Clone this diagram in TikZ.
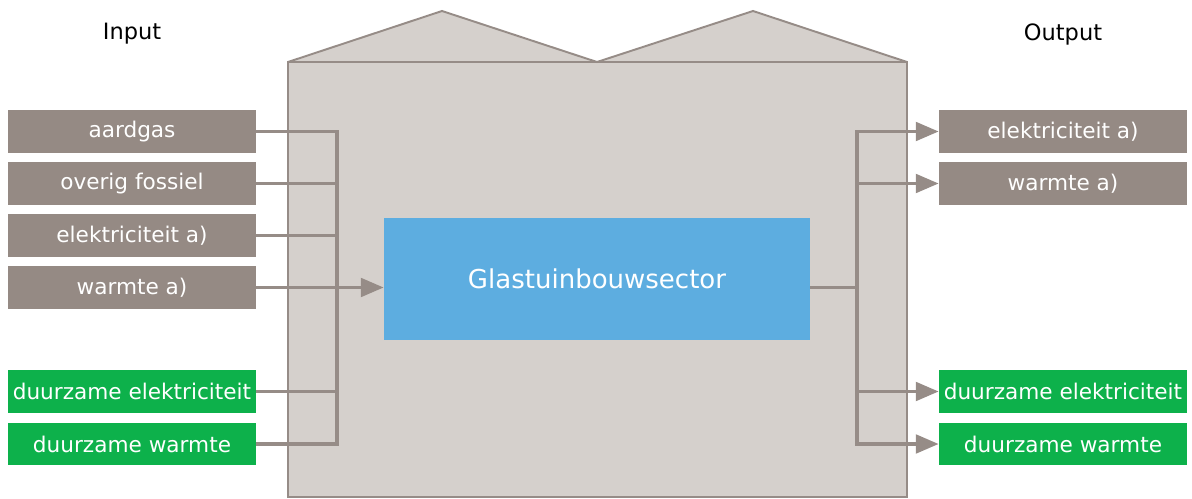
\documentclass[tikz,border=0pt]{standalone}
\usepackage{fontspec}
\setmainfont{DejaVu Sans}
\usetikzlibrary{arrows.meta}

\definecolor{boxgray}{RGB}{149,138,132}
\definecolor{linegray}{RGB}{150,140,135}
\definecolor{hallfill}{RGB}{213,208,204}
\definecolor{sectorblue}{RGB}{93,173,224}
\definecolor{greenbox}{RGB}{13,177,75}

\tikzset{
  flowbox/.style={rectangle,inner sep=0pt,minimum width=4.96cm,minimum height=0.86cm,
    text=white,font=\fontsize{12.3}{15}\selectfont},
  fossil/.style={flowbox,fill=boxgray},
  renew/.style={flowbox,fill=greenbox},
  flow/.style={draw=linegray,line width=2.1pt},
  flowarrow/.style={flow,-{Triangle[length=13pt,width=10.5pt]}}
}

\begin{document}
\begin{tikzpicture}[x=0.02cm,y=-0.02cm]
  \useasboundingbox (0,0) rectangle (1192,499);
  % greenhouse
  \draw[fill=hallfill,draw=linegray,line width=1.1pt,line join=miter]
    (288,497) -- (288,62) -- (442,11) -- (597,62) -- (753,11) -- (907,62) -- (907,497) -- cycle;
  \draw[draw=linegray,line width=1.1pt] (288,62) -- (907,62);

  \node[font=\fontsize{12.8}{15}\selectfont] (inlabel) at (132,34) {Input};
  \node[font=\fontsize{12.8}{15}\selectfont] (outlabel) at (1063,34) {Output};

  \node[fill=sectorblue,text=white,minimum width=8.52cm,minimum height=2.44cm,inner sep=0pt,
    font=\fontsize{14.8}{17}\selectfont] (sector) at (597,279) {Glastuinbouwsector};

  % inputs
  \node[fossil] (in1) at (132,131.5) {aardgas};
  \node[fossil] (in2) at (132,183.5) {overig fossiel};
  \node[fossil] (in3) at (132,235.5) {elektriciteit a)};
  \node[fossil] (in4) at (132,287.5) {warmte a)};
  \node[renew]  (in5) at (132,391.5) {duurzame elektriciteit};
  \node[renew]  (in6) at (132,444) {duurzame warmte};

  % outputs
  \node[fossil] (out1) at (1063,131.5) {elektriciteit a)};
  \node[fossil] (out2) at (1063,183.5) {warmte a)};
  \node[renew]  (out3) at (1063,391.5) {duurzame elektriciteit};
  \node[renew]  (out4) at (1063,444) {duurzame warmte};

  \coordinate (busL) at (337,287.5);
  \coordinate (busR) at (857,287.5);

  % input lines
  \foreach \i in {1,2,3,5,6}
    \draw[flow] (in\i.east) -- (in\i.east -| busL);
  \draw[flow,line cap=rect] (in1.east -| busL) -- (in6.east -| busL);
  \draw[flowarrow] (in4.east) -- (in4.east -| sector.west);

  % output lines
  \draw[flow] (busR -| sector.east) -- (busR);
  \draw[flow,line cap=rect] (out1.west -| busR) -- (out4.west -| busR);
  \foreach \o in {1,2,3,4}
    \draw[flowarrow] (out\o.west -| busR) -- (out\o.west);
\end{tikzpicture}
\end{document}
